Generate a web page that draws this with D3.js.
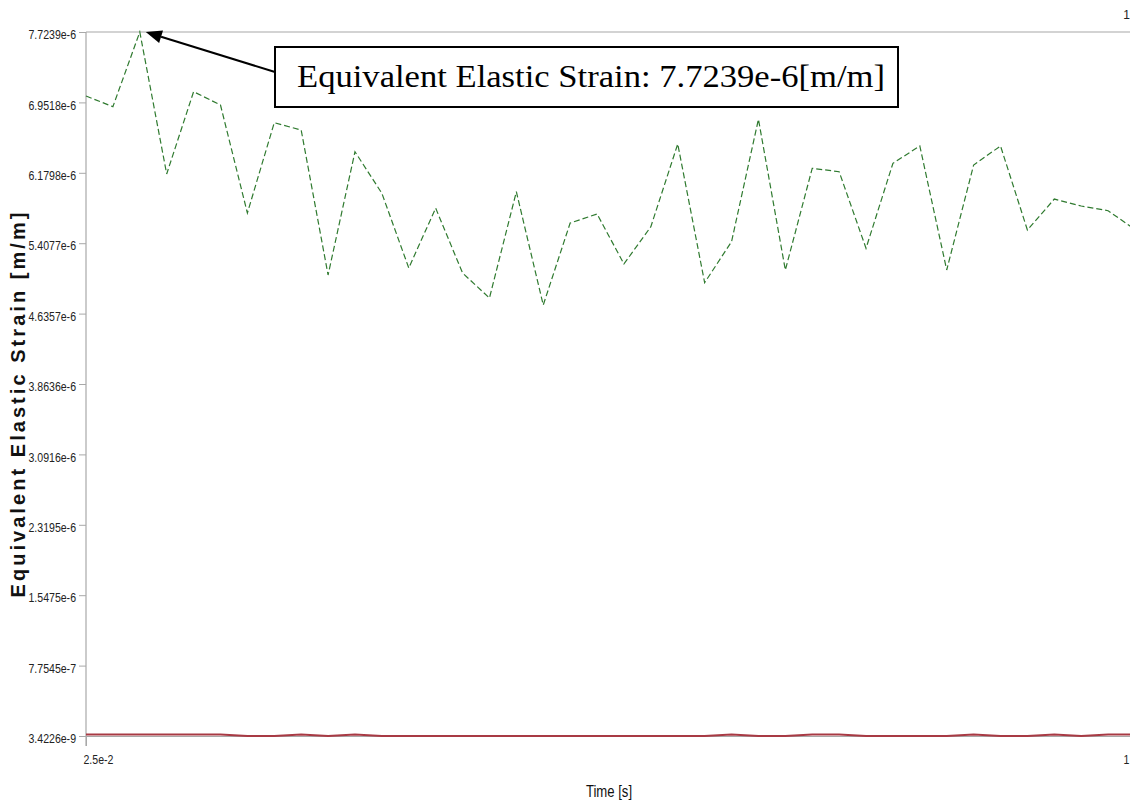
<!DOCTYPE html>
<html><head><meta charset="utf-8">
<script src="https://cdn.jsdelivr.net/npm/d3@7"></script>
<style>html,body{margin:0;padding:0;background:#fff;overflow:hidden}</style>
</head><body><svg id="c" width="1130" height="811"></svg>
<script>
// ---- data ----
const timeSteps = [0.025,0.05,0.075,0.1,0.125,0.15,0.175,0.2,0.225,0.25,
  0.275,0.3,0.325,0.35,0.375,0.4,0.425,0.45,0.475,0.5,
  0.525,0.55,0.575,0.6,0.625,0.65,0.675,0.7,0.725,0.75,
  0.775,0.8,0.825,0.85,0.875,0.9,0.925,0.95,0.975,1.0];
const strainMax = [7.022e-6,6.905e-6,7.7239e-6,6.167e-6,7.069e-6,6.923e-6,5.739e-6,6.729e-6,6.649e-6,5.059e-6,
  6.411e-6,5.955e-6,5.136e-6,5.792e-6,5.081e-6,4.807e-6,5.972e-6,4.730e-6,5.629e-6,5.728e-6,
  5.180e-6,5.589e-6,6.496e-6,4.975e-6,5.424e-6,6.767e-6,5.114e-6,6.229e-6,6.192e-6,5.352e-6,
  6.284e-6,6.474e-6,5.114e-6,6.265e-6,6.474e-6,5.552e-6,5.892e-6,5.816e-6,5.764e-6,5.558e-6];
const strainMin = [1.9e-8,1.9e-8,1.9e-8,1.9e-8,1.9e-8,1.9e-8,3.4226e-9,3.4226e-9,1.9e-8,3.4226e-9,
  1.9e-8,3.4226e-9,3.4226e-9,3.4226e-9,3.4226e-9,3.4226e-9,3.4226e-9,3.4226e-9,3.4226e-9,3.4226e-9,
  3.4226e-9,3.4226e-9,3.4226e-9,3.4226e-9,1.9e-8,3.4226e-9,3.4226e-9,1.9e-8,1.9e-8,3.4226e-9,
  3.4226e-9,3.4226e-9,3.4226e-9,1.9e-8,3.4226e-9,3.4226e-9,1.9e-8,3.4226e-9,1.9e-8,1.9e-8];
const yTickValues = [3.4226e-9,7.7545e-7,1.5475e-6,2.3195e-6,3.0916e-6,3.8636e-6,4.6357e-6,5.4077e-6,6.1798e-6,6.9518e-6,7.7239e-6];
const yTickLabels = ["3.4226e-9","7.7545e-7","1.5475e-6","2.3195e-6","3.0916e-6","3.8636e-6","4.6357e-6","5.4077e-6","6.1798e-6","6.9518e-6","7.7239e-6"];
const xTickValues = [0.025, 1];
const xTickLabels = ["2.5e-2","1"];
const annotationText = "Equivalent Elastic Strain: 7.7239e-6[m/m]";
const yTitle = "Equivalent Elastic Strain [m/m]";
const xTitle = "Time [s]";

// ---- layout ----
const L = 86, R = 1135, T = 32, B = 736;
const svg = d3.select("#c");
const x = d3.scaleLinear().domain([0.025, 1]).range([L, R]);
const y = d3.scaleLinear().domain([3.4226e-9, 7.7239e-6]).range([B, T]);
const narrow = '"Liberation Sans Narrow","Arial Narrow","Liberation Sans",Arial,sans-serif';
function condense(sel, f) {
  sel.each(function () {
    const w = this.getComputedTextLength();
    d3.select(this).attr("textLength", w * f).attr("lengthAdjust", "spacingAndGlyphs");
  });
}

// top border line
svg.append("line").attr("x1", L).attr("x2", 1130).attr("y1", T).attr("y2", T)
  .attr("stroke", "#a8a8a8").attr("stroke-width", 1.2);

// y axis
const gy = svg.append("g").attr("transform", `translate(${L},0)`)
  .call(d3.axisLeft(y).tickValues(yTickValues).tickSize(7).tickPadding(3)
    .tickFormat((d, i) => yTickLabels[i]));
gy.select(".domain").remove();
gy.selectAll(".tick line").attr("stroke", "#a8a8a8");
gy.selectAll(".tick text").attr("font-family", narrow).attr("font-size", 12)
  .attr("fill", "#222").attr("dy", "0.55em").call(condense, 0.88);
svg.append("line").attr("x1", L).attr("x2", L).attr("y1", T).attr("y2", B + 10)
  .attr("stroke", "#a8a8a8").attr("stroke-width", 1.2);

// x axis
const gx = svg.append("g").attr("transform", `translate(0,${B})`)
  .call(d3.axisBottom(x).tickValues(xTickValues).tickSize(10).tickPadding(9)
    .tickFormat((d, i) => xTickLabels[i]));
gx.select(".domain").attr("stroke", "#a8a8a8").attr("d", `M${L},0.5H1130`);
gx.selectAll(".tick line").attr("stroke", "#a8a8a8");
gx.selectAll(".tick text").attr("font-family", narrow).attr("font-size", 12).attr("fill", "#222")
  .attr("text-anchor", (d, i) => i === 0 ? "start" : "end")
  .attr("dx", (d, i) => i === 0 ? -3 : -6).call(condense, 0.88);

// top-right "1" label
svg.append("text").attr("x", 1130).attr("y", 19).attr("text-anchor", "end")
  .attr("font-family", narrow).attr("font-size", 12).attr("fill", "#222").text(xTickLabels[1]);

// titles
svg.append("text").attr("transform", `translate(25,405) rotate(-90)`)
  .attr("text-anchor", "middle").attr("font-family", '"Liberation Sans",Arial,sans-serif')
  .attr("font-weight", "bold").attr("font-size", 20).attr("fill", "#111")
  .attr("textLength", 385).attr("lengthAdjust", "spacing").text(yTitle);
svg.append("text").attr("x", 609).attr("y", 797).attr("text-anchor", "middle")
  .attr("font-family", narrow).attr("font-size", 16).attr("fill", "#111").text(xTitle)
  .call(condense, 0.82);

// series
const line = d3.line().x((d, i) => x(timeSteps[i])).y(d => y(d));
svg.append("path").datum(strainMin).attr("d", line).attr("fill", "none")
  .attr("stroke", "#a83a44").attr("stroke-width", 2);
svg.append("path").datum(strainMax).attr("d", line).attr("fill", "none")
  .attr("stroke", "#2f7a2f").attr("stroke-width", 1.2).attr("stroke-dasharray", "6,3");

// annotation
const peakIdx = strainMax.indexOf(d3.max(strainMax));
const tipX = x(timeSteps[peakIdx]) + 6, tipY = y(strainMax[peakIdx]);
const boxX = 275, boxY = 47, boxW = 623, boxH = 60;
const startX = boxX, startY = 72;
const ang = Math.atan2(startY - tipY, startX - tipX);
const headLen = 16, headW = 6.5;
const bx = tipX + headLen * Math.cos(ang), by = tipY + headLen * Math.sin(ang);
svg.append("line").attr("x1", startX).attr("y1", startY).attr("x2", bx).attr("y2", by)
  .attr("stroke", "#000").attr("stroke-width", 2);
svg.append("path").attr("d", d3.line()([
  [tipX, tipY],
  [bx + headW * Math.sin(ang), by - headW * Math.cos(ang)],
  [bx - headW * Math.sin(ang), by + headW * Math.cos(ang)]
]) + "Z").attr("fill", "#000");
svg.append("rect").attr("x", boxX).attr("y", boxY).attr("width", boxW).attr("height", boxH)
  .attr("fill", "#fff").attr("stroke", "#000").attr("stroke-width", 2);
svg.append("text").attr("x", boxX + 22).attr("y", boxY + 40)
  .attr("font-family", '"Liberation Serif","Times New Roman",serif').attr("font-size", 31)
  .attr("fill", "#000").attr("textLength", 588).attr("lengthAdjust", "spacingAndGlyphs")
  .text(annotationText);
</script></body></html>
